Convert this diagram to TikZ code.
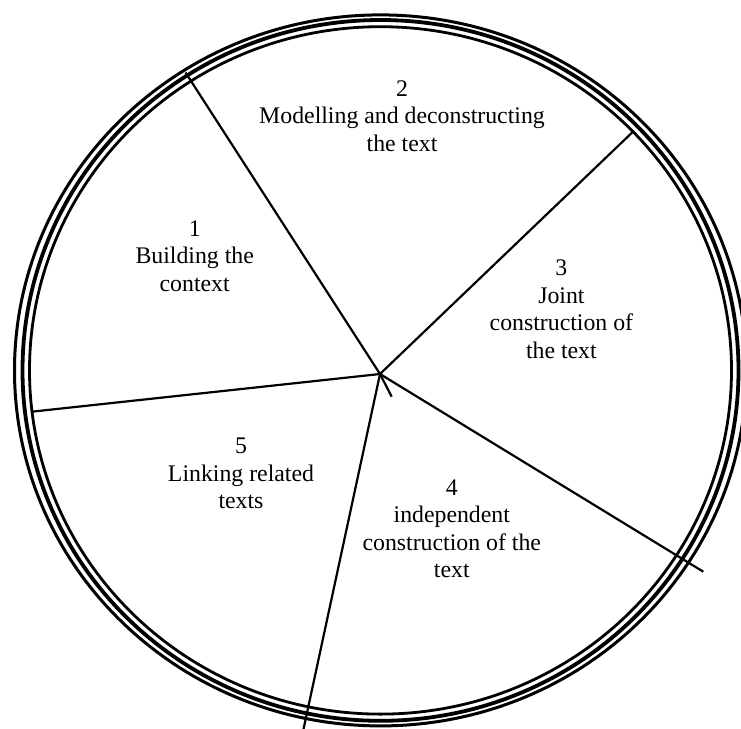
\documentclass[tikz,border=0pt]{standalone}
\usepackage{fontspec}
\setmainfont{Liberation Serif}
\begin{document}
\begin{tikzpicture}[x=1pt,y=-1pt,
  ringouter/.style={line width=3pt},
  ringmid/.style={line width=3.8pt},
  ringinner/.style={line width=2.8pt},
  spoke/.style={line width=2.2pt},
  stagelabel/.style={align=center,inner sep=0pt,font=\fontsize{23.8}{27.5}\selectfont}]
\useasboundingbox (0,0) rectangle (741,728);
\fill[white] (0,0) rectangle (741,728);
\begin{scope}
\clip (0,0) rectangle (741,728);
\coordinate (ctr) at (380.5,370.4);
\draw[ringouter] (ctr) ellipse [x radius=366, y radius=355.5];
\draw[ringmid] (ctr) ellipse [x radius=358, y radius=350.4];
\draw[ringinner] (ctr) ellipse [x radius=351, y radius=343.7];
\coordinate (hub) at (380,374);
\coordinate (p1) at (185.5,72.5);
\coordinate (p2) at (633,131.7);
\coordinate (p3) at (703.3,571.7);
\coordinate (p4) at (303.3,730);
\coordinate (p5) at (31.7,411.7);
\coordinate (stub) at (391.7,396.7);
\draw[spoke] (hub) -- (p1);
\draw[spoke] (hub) -- (p2);
\draw[spoke] (hub) -- (p3);
\draw[spoke] (hub) -- (p4);
\draw[spoke] (hub) -- (p5);
\draw[spoke] (hub) -- (stub);
\end{scope}
\node[stagelabel] (s2) at (402,116) {2\\Modelling and deconstructing\\the text};
\node[stagelabel] (s1) at (194.7,256.1) {1\\Building the\\context};
\node[stagelabel] (s3) at (561.4,309.1) {3\\Joint\\construction of\\the text};
\node[stagelabel] (s5) at (241,473.8) {5\\Linking related\\texts};
\node[stagelabel] (s4) at (451.8,528.6) {4\\independent\\construction of the\\text};
\end{tikzpicture}
\end{document}
